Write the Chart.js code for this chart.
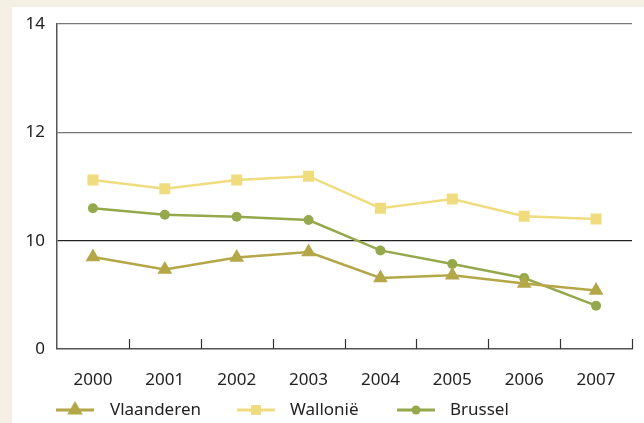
<!DOCTYPE html>
<html>
<head>
<meta charset="utf-8">
<script src="https://cdn.jsdelivr.net/npm/chart.js@4"></script>
<style>
    html, body { margin: 0; padding: 0; background: #f4f0e4; }
    #panel { position: absolute; left: 12px; top: 7px; width: 632px; height: 416px; background: #fff; }
    #chart { display: block; }
</style>
</head>
<body>
<div id="panel"><canvas id="chart" width="632" height="416"></canvas></div>
<script>
const years = ['2000', '2001', '2002', '2003', '2004', '2005', '2006', '2007'];
const vlaanderen = [9.70, 9.47, 9.69, 9.79, 9.31, 9.36, 9.21, 9.08];
const wallonie = [11.12, 10.96, 11.12, 11.19, 10.60, 10.77, 10.45, 10.40];
const brussel = [10.60, 10.48, 10.44, 10.38, 9.82, 9.57, 9.31, 8.80];
// broken axis: bottom of the plot is labelled 0
const yTicks = [8, 10, 12, 14];
const yLabels = { 8: '0', 10: '10', 12: '12', 14: '14' };

const FONT = '"Noto Sans", "Open Sans", sans-serif';

// small tick marks on the x axis, pointing up into the plot
const innerTicks = {
    id: 'innerTicks',
    afterDatasetsDraw(chart) {
        const x = chart.scales.x, ctx = chart.ctx, a = chart.chartArea;
        const step = x.getPixelForValue(1) - x.getPixelForValue(0);
        ctx.save();
        ctx.strokeStyle = '#333';
        ctx.lineWidth = 1.2;
        for (let i = 0; i < years.length; i++) {
            const px = Math.round(x.getPixelForValue(i) + step / 2) + 0.5;
            ctx.beginPath();
            ctx.moveTo(px, a.bottom);
            ctx.lineTo(px, a.bottom - 10);
            ctx.stroke();
        }
        ctx.restore();
    }
};

// legend with a short line and the marker in its middle
const lineLegend = {
    id: 'lineLegend',
    afterDraw(chart) {
        const ctx = chart.ctx;
        const y = 403;
        const items = [{ x: 44, tx: 98 }, { x: 225, tx: 278 }, { x: 385, tx: 438 }];
        ctx.save();
        chart.data.datasets.forEach((ds, i) => {
            const it = items[i];
            ctx.strokeStyle = ds.borderColor;
            ctx.lineWidth = 3;
            ctx.beginPath();
            ctx.moveTo(it.x, y);
            ctx.lineTo(it.x + 38, y);
            ctx.stroke();
            ctx.fillStyle = ds.pointBackgroundColor;
            Chart.helpers.drawPoint(ctx, {
                pointStyle: ds.pointStyle,
                radius: ds.legendRadius,
                borderWidth: 0
            }, it.x + 19, y);
            ctx.fillStyle = '#222';
            ctx.font = '17px ' + FONT;
            ctx.textBaseline = 'middle';
            ctx.fillText(ds.label, it.tx, y);
        });
        ctx.restore();
    }
};

new Chart(document.getElementById('chart'), {
    type: 'line',
    data: {
        labels: years,
        datasets: [
            {
                label: 'Vlaanderen',
                data: vlaanderen,
                borderColor: '#b4a748',
                pointBackgroundColor: '#b4a748',
                pointBorderColor: '#b4a748',
                pointStyle: 'triangle',
                pointRadius: 8.5,
                legendRadius: 9,
                borderWidth: 2.5,
                pointBorderWidth: 0
            },
            {
                label: 'Wallonië',
                data: wallonie,
                borderColor: '#efdc7f',
                pointBackgroundColor: '#efdc7f',
                pointBorderColor: '#efdc7f',
                pointStyle: 'rect',
                pointRadius: 7.8,
                legendRadius: 7,
                borderWidth: 2.5,
                pointBorderWidth: 0
            },
            {
                label: 'Brussel',
                data: brussel,
                borderColor: '#95a84c',
                pointBackgroundColor: '#95a84c',
                pointBorderColor: '#95a84c',
                pointStyle: 'circle',
                pointRadius: 5,
                legendRadius: 4.5,
                borderWidth: 2.5,
                pointBorderWidth: 0
            }
        ]
    },
    options: {
        responsive: false,
        animation: false,
        layout: { padding: { top: 17, right: 12, left: 0, bottom: 0 } },
        plugins: { legend: { display: false }, tooltip: { enabled: false } },
        scales: {
            x: {
                offset: true,
                grid: { display: false, drawTicks: false },
                border: { display: true, color: '#555', width: 1.5 },
                ticks: { color: '#222', font: { family: FONT, size: 17 }, padding: 21 },
                afterFit(scale) { scale.height = 74; scale.paddingLeft = 0; scale.paddingRight = 0; }
            },
            y: {
                min: 8,
                max: 14,
                afterBuildTicks(scale) { scale.ticks = yTicks.map(v => ({ value: v })); },
                grid: {
                    drawTicks: false,
                    tickLength: 0,
                    lineWidth: 1.2,
                    color: (c) => c.tick && c.tick.value === 10 ? '#222' : (c.tick && c.tick.value === 8 ? 'rgba(0,0,0,0)' : '#777')
                },
                border: { display: true, color: '#555', width: 1.5 },
                ticks: {
                    color: '#222',
                    font: { family: FONT, size: 17 },
                    padding: 12,
                    callback: (v) => yLabels[v]
                },
                afterFit(scale) { scale.width = 45; scale.paddingTop = 0; scale.paddingBottom = 0; }
            }
        }
    },
    plugins: [innerTicks, lineLegend]
});
</script>
</body>
</html>
